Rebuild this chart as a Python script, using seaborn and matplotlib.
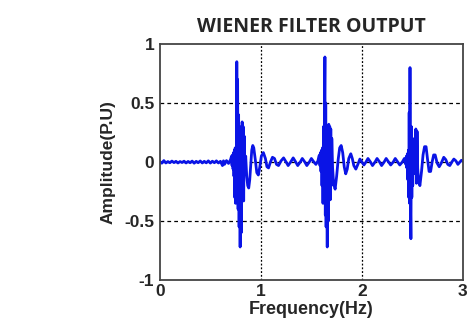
import matplotlib
import matplotlib.pyplot as plt
import pandas as pd
import seaborn as sns

matplotlib.use("Agg")

# baseline before the first burst
base_freq = [0.00, 0.02, 0.04, 0.06, 0.08, 0.10, 0.12, 0.14, 0.16, 0.18, 0.20, 0.22,
             0.24, 0.26, 0.28, 0.30, 0.32, 0.34, 0.36, 0.38, 0.40, 0.42, 0.44, 0.46,
             0.48, 0.50, 0.52, 0.54, 0.56, 0.58, 0.60, 0.62, 0.63, 0.64, 0.66, 0.68, 0.70]
base_amp = [0.005, -0.01, 0.012, -0.008, 0.004, -0.006, 0.008, -0.005, 0.006, -0.008, 0.004, -0.004,
            0.007, -0.008, 0.005, -0.006, 0.008, -0.01, 0.006, -0.006, 0.009, -0.008, 0.006, -0.007,
            0.01, -0.009, 0.007, -0.006, 0.01, -0.008, 0.006, -0.03, 0.01, -0.02, 0.012, -0.012, 0.02]

# first burst and the ripple after it
burst1_freq = [0.710, 0.715, 0.720, 0.725, 0.730, 0.734, 0.738, 0.742, 0.746, 0.750, 0.754, 0.758,
               0.762, 0.766, 0.770, 0.775, 0.780, 0.785, 0.790, 0.795, 0.800, 0.805, 0.810, 0.815,
               0.820, 0.825, 0.830, 0.835, 0.842, 0.850, 0.860, 0.870, 0.880, 0.890, 0.900, 0.910,
               0.920, 0.930, 0.945, 0.960, 0.975, 0.990, 1.005, 1.025, 1.045, 1.060, 1.076, 1.095,
               1.115, 1.135, 1.155, 1.175, 1.200, 1.225, 1.250, 1.270, 1.295, 1.320, 1.345, 1.365,
               1.390, 1.410, 1.435, 1.455, 1.480, 1.500, 1.525, 1.545, 1.565, 1.575]
burst1_amp = [0.05, -0.03, 0.06, -0.06, 0.08, -0.12, 0.10, -0.30, 0.12, -0.35, 0.10, -0.33,
              0.85, -0.20, 0.70, -0.40, 0.40, -0.55, 0.30, -0.72, 0.25, -0.60, 0.05, 0.34,
              -0.30, 0.30, -0.33, 0.22, -0.10, 0.05, -0.12, -0.20, -0.22, -0.15, -0.02, 0.10,
              0.14, 0.12, 0.02, -0.09, -0.11, -0.04, 0.05, 0.08, 0.03, -0.04, -0.05, 0.00,
              0.04, 0.03, -0.02, -0.03, 0.01, 0.035, 0.00, -0.03, 0.00, 0.035, 0.00, -0.03,
              0.00, 0.03, 0.00, -0.03, 0.00, 0.03, 0.00, -0.02, 0.01, 0.05]

# second burst
burst2_freq = [1.580, 1.585, 1.590, 1.595, 1.600, 1.605, 1.610, 1.615, 1.620, 1.624, 1.628, 1.634,
               1.638, 1.642, 1.646, 1.650, 1.657, 1.662, 1.667, 1.672, 1.677, 1.682, 1.687, 1.692,
               1.697, 1.702, 1.710, 1.720, 1.735, 1.750, 1.765, 1.780, 1.795, 1.810, 1.825, 1.840,
               1.855, 1.870, 1.890, 1.905, 1.920, 1.940, 1.960, 1.980, 2.000, 2.020, 2.040, 2.060,
               2.085, 2.105, 2.130, 2.150, 2.175, 2.195, 2.220, 2.240, 2.265, 2.285, 2.310, 2.330,
               2.355, 2.375, 2.400, 2.420, 2.435]
burst2_amp = [0.06, -0.03, 0.08, -0.08, 0.10, -0.20, 0.12, -0.35, 0.30, -0.30, 0.25, 0.89,
              -0.45, 0.50, -0.55, 0.30, -0.72, 0.20, -0.50, 0.32, -0.25, 0.30, -0.32, 0.28,
              -0.20, 0.20, -0.05, -0.18, -0.23, -0.12, 0.02, 0.12, 0.14, 0.08, -0.04, -0.10,
              -0.06, 0.03, 0.07, 0.03, -0.03, -0.06, -0.02, 0.025, 0.00, -0.025, 0.00, 0.03,
              0.00, -0.03, 0.00, 0.03, 0.00, -0.03, 0.00, 0.03, 0.00, -0.025, 0.00, 0.03,
              0.00, -0.025, 0.00, 0.03, -0.02]

# third burst
burst3_freq = [2.440, 2.445, 2.450, 2.455, 2.460, 2.464, 2.468, 2.472, 2.476, 2.480, 2.485, 2.490,
               2.494, 2.498, 2.503, 2.508, 2.514, 2.522, 2.528, 2.534, 2.540, 2.546, 2.552, 2.560,
               2.574, 2.590, 2.605, 2.620, 2.635, 2.650, 2.665, 2.680, 2.695, 2.710, 2.725, 2.745,
               2.765, 2.785, 2.810, 2.830, 2.850, 2.870, 2.890, 2.910, 2.930, 2.950, 2.970, 2.985,
               3.000]
burst3_amp = [0.05, -0.05, 0.07, -0.15, 0.10, -0.30, 0.42, -0.35, 0.80, -0.30, -0.65, 0.30,
              -0.30, 0.20, -0.20, 0.10, -0.05, 0.20, -0.10, 0.28, -0.18, 0.26, -0.05, -0.15,
              -0.20, -0.08, 0.06, 0.13, 0.13, 0.02, -0.08, -0.08, 0.00, 0.06, 0.06, -0.01,
              -0.04, -0.01, 0.04, 0.02, -0.02, -0.03, 0.00, 0.025, 0.01, -0.02, 0.00, 0.015,
              0.005]

df = pd.DataFrame({
    "freq": base_freq + burst1_freq + burst2_freq + burst3_freq,
    "amp": base_amp + burst1_amp + burst2_amp + burst3_amp,
})

sns.set_theme(style="white")
plt.rcParams["font.family"] = ["Liberation Sans", "DejaVu Sans"]

fig = plt.figure(figsize=(4.7, 3.26), dpi=100)
ax = fig.add_axes([0.34, 0.141, 0.645, 0.724])
sns.lineplot(data=df, x="freq", y="amp", sort=False, estimator=None,
             color="#0a14e6", linewidth=2.0, ax=ax)

ax.set_xlim(0, 3)
ax.set_ylim(-1, 1)
ax.set_xticks([0, 1, 2, 3])
ax.set_yticks([-1, -0.5, 0, 0.5, 1])
ax.set_xticklabels(["0", "1", "2", "3"])
ax.set_yticklabels(["-1", "-0.5", "0", "0.5", "1"])
for x in (1, 2):
    ax.axvline(x, color="black", linewidth=0.9, linestyle=(0, (1.5, 1.5)), zorder=0)
for y in (-0.5, 0, 0.5):
    ax.axhline(y, color="black", linewidth=0.9, linestyle=(0, (3, 2.5)), zorder=0)
ax.tick_params(axis="x", length=0, pad=3, labelsize=12.5)
ax.tick_params(axis="y", length=0, pad=4, labelsize=12.5)
for lab in ax.get_xticklabels() + ax.get_yticklabels():
    lab.set_fontweight("bold")
for s in ax.spines.values():
    s.set_color("#444444")
    s.set_linewidth(1.3)

ax.set_xlabel("Frequency(Hz)", fontsize=13, fontweight="bold", labelpad=1)
ax.set_ylabel("Amplitude(P.U)", fontsize=12.5, fontweight="bold", labelpad=6)
ax.set_title("WIENER FILTER OUTPUT", fontsize=14, fontweight="bold",
             family=["Open Sans", "DejaVu Sans"], pad=9)

fig.savefig("out.png", dpi=100)
